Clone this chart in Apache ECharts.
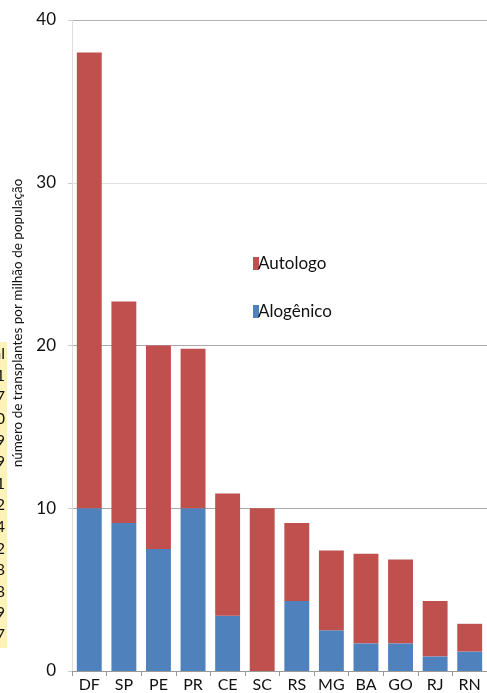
<!DOCTYPE html>
<html>
<head>
<meta charset="utf-8">
<script src="https://cdn.jsdelivr.net/npm/echarts@6/dist/echarts.min.js"></script>
<style>html,body{margin:0;padding:0;background:#fff}#c{width:487px;height:693px}</style>
</head>
<body>
<div id="c"></div>
<script>
var categories = ['DF','SP','PE','PR','CE','SC','RS','MG','BA','GO','RJ','RN'];
var alogenico = [10.0, 9.1, 7.5, 10.0, 3.4, 0, 4.3, 2.5, 1.7, 1.7, 0.9, 1.2];
var autologo  = [28.0, 13.6, 12.5, 9.8, 7.5, 10.0, 4.8, 4.9, 5.5, 5.15, 3.4, 1.7];
var yTicks = [0, 10, 20, 30, 40];
var sideTableTexts = ['al','1','7','0','9','9','1','2','4','2','8','8','9','7'];

var FONT = 'Lato';
var chart = echarts.init(document.getElementById('c'), null, {renderer:'canvas'});

var tableGraphics = [{
  type:'rect', left:0, top:342, shape:{x:0,y:0,width:7,height:306},
  style:{fill:'#fdf2b8'}, silent:true
}];
sideTableTexts.forEach(function(t,i){
  tableGraphics.push({
    type:'text', x:5, y:354 + i*21.6,
    style:{text:t, fill:'#111', font:'16px ' + FONT, textAlign:'right', textVerticalAlign:'middle'}
  });
});

chart.setOption({
  animation:false,
  textStyle:{fontFamily:FONT},
  grid:{left:72, top:20, width:418, bottom:21, containLabel:false},
  legend:{
    orient:'vertical', left:248, top:250, itemWidth:6, itemHeight:13, itemGap:31,
    data:['Autologo','Alogênico'], icon:'rect',
    textStyle:{fontSize:17, color:'#111', fontFamily:FONT, padding:[0,0,0,-6]}
  },
  xAxis:{
    type:'category', data:categories,
    axisLine:{lineStyle:{color:'#999'}},
    axisTick:{show:true, length:5, lineStyle:{color:'#999'}},
    axisLabel:{fontSize:16, color:'#111', margin:6, fontFamily:FONT}
  },
  yAxis:{
    type:'value', min:0, max:40, interval:10,
    axisLine:{show:true, lineStyle:{color:'#ddd'}},
    axisTick:{show:true, length:4, lineStyle:{color:'#ccc'}},
    axisLabel:{fontSize:17, color:'#111', margin:16, fontFamily:FONT,
      formatter:function(v){return yTicks.indexOf(v)>=0 ? String(v) : '';}},
    splitLine:{lineStyle:{color:['#999','#a8a8a8','#a8a8a8','#e0e0e0','#b0b0b0']}}
  },
  graphic: [{
    type:'text', x:18, y:323, rotation:Math.PI/2,
    style:{text:'número de transplantes por milhão de população', fill:'#111',
      font:'13.5px ' + FONT, textAlign:'center', textVerticalAlign:'middle'}
  }].concat(tableGraphics),
  series:[
    {name:'Alogênico', type:'bar', stack:'t', data:alogenico, barCategoryGap:'28%',
      itemStyle:{color:'#4f81bd'}},
    {name:'Autologo', type:'bar', stack:'t', data:autologo, barCategoryGap:'28%',
      itemStyle:{color:'#c0504d'}}
  ]
});
</script>
</body>
</html>
